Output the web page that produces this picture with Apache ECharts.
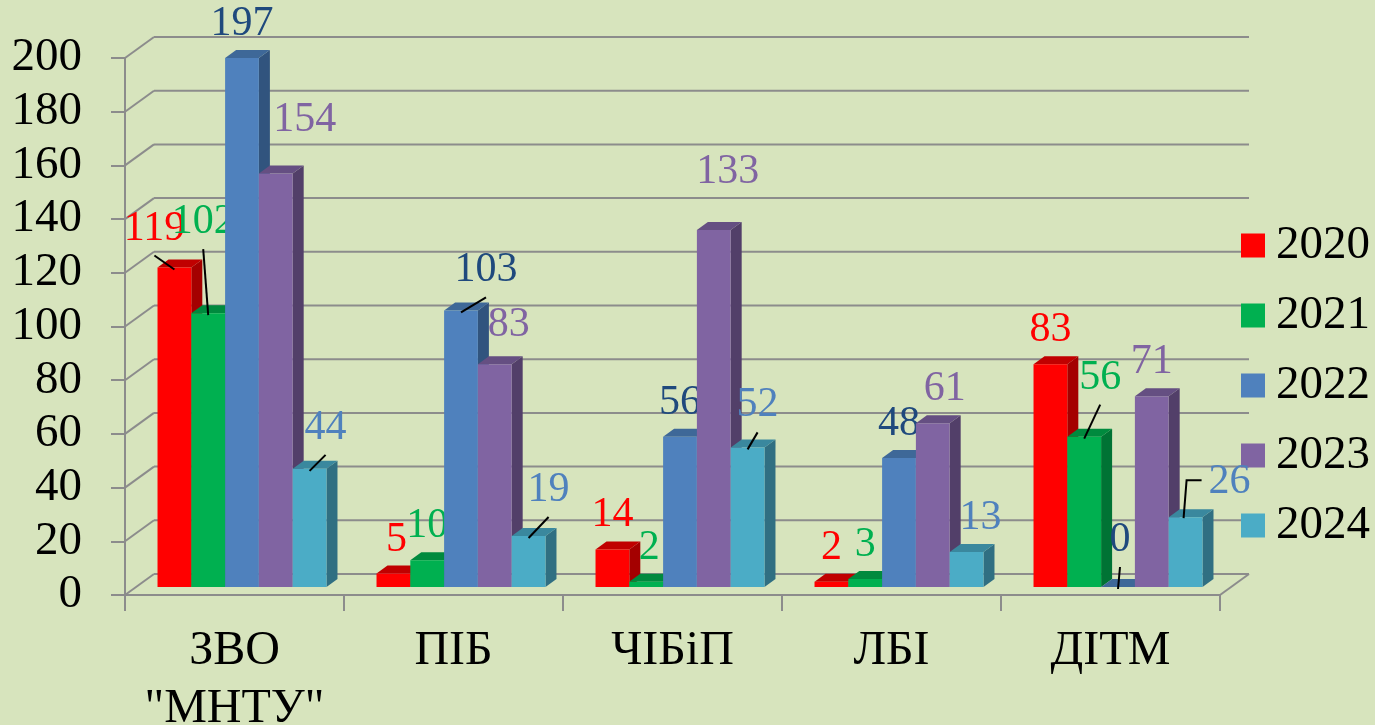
<!DOCTYPE html>
<html>
<head>
<meta charset="utf-8">
<script src="https://cdn.jsdelivr.net/npm/echarts@6/dist/echarts.min.js"></script>
<style>
html,body{margin:0;padding:0;background:#D7E4BD;}
#chart{width:1375px;height:725px;}
</style>
</head>
<body>
<div id="chart"></div>
<script>
// ---- data ----
const categories = ['ЗВО\n"МНТУ"', 'ПІБ', 'ЧІБіП', 'ЛБІ', 'ДІТМ'];
const years = ['2020', '2021', '2022', '2023', '2024'];
const v2020 = [119, 5, 14, 2, 83];
const v2021 = [102, 10, 2, 3, 56];
const v2022 = [197, 103, 56, 48, 0];
const v2023 = [154, 83, 133, 61, 71];
const v2024 = [44, 19, 52, 13, 26];
const yTicks = [0, 20, 40, 60, 80, 100, 120, 140, 160, 180, 200];
const seriesValues = [v2020, v2021, v2022, v2023, v2024];

// ---- styling / layout ----
const faceColors = [
  ['#FF0000', '#C00000', '#A40000'],
  ['#00B050', '#008A3E', '#007334'],
  ['#4F81BD', '#3E6898', '#31547E'],
  ['#8064A2', '#654F82', '#523F69'],
  ['#4BACC6', '#3A889E', '#306F82']
];
const labelColors = ['#FF0000', '#00B050', '#1F497D', '#8064A2', '#4F81BD'];
// label nudges [dx, dy, leaderType] per series per category (manual label placement)
const labelNudge = [
  [[-20, -5, 1], [3, 0, 0], [0, 0, 0], [0, 0, 0], [0, 0, 0]],
  [[-5, -57, 1], [0, 0, 0], [3, 0, 0], [0, 0, 0], [16, -25, 1]],
  [[0, 0, 0], [25, -6, 1], [0, 0, 0], [0, 0, 0], [2, -13, 1]],
  [[29, -20, 0], [14, -5, 0], [14, -24, 0], [12, 0, 0], [0, 0, 0]],
  [[16, -7, 1], [20, -12, 1], [10, -8, 1], [14, 0, 0], [44, -1, 2]]
];
const FONT = '"Liberation Serif", "Times New Roman", serif';
const GRID_COLOR = '#8C8C8C';
const WALL_DX = 29, WALL_DY = 21;
const BAR_DX = 11, BAR_DY = 8;

const chart = echarts.init(document.getElementById('chart'), null, {renderer: 'canvas'});

function barRender(s) {
  return function (params, api) {
    const c = api.value(0), v = api.value(1);
    const band = api.size([1, 0])[0];
    const k = band / 219;
    const w = band * 0.1543;
    const p = api.coord([c, v]);
    const b = api.coord([c, 0]);
    const x0 = p[0] + 7.5 * k + (s - 2.5) * w;
    const x1 = x0 + w;
    const ty = p[1] - BAR_DY;
    const by = b[1] - BAR_DY;
    const fc = faceColors[s];
    const children = [
      {type: 'polygon', shape: {points: [[x1, ty], [x1 + BAR_DX, ty - BAR_DY], [x1 + BAR_DX, by - BAR_DY], [x1, by]]}, style: {fill: fc[2]}},
      {type: 'polygon', shape: {points: [[x0, ty], [x1, ty], [x1 + BAR_DX, ty - BAR_DY], [x0 + BAR_DX, ty - BAR_DY]]}, style: {fill: fc[1]}},
      {type: 'rect', shape: {x: x0, y: ty, width: w, height: by - ty}, style: {fill: fc[0]}}
    ];
    const nd = labelNudge[s][c];
    const bx = (x0 + x1) / 2;
    const lx = bx + nd[0];
    const ly = ty - 34 + nd[1];
    const txt = String(v);
    if (nd[2] === 1) {
      children.push({type: 'line', shape: {x1: bx, y1: ty + 2, x2: lx, y2: ly + 27}, style: {stroke: '#000', lineWidth: 2}});
    } else if (nd[2] === 2) {
      const tw = txt.length * 21;
      children.push({type: 'polyline', shape: {points: [[bx - 2, ty + 1], [bx + 1, ly - 2], [lx - tw / 2 - 7, ly - 2]]}, style: {stroke: '#000', lineWidth: 2, fill: null}});
    }
    children.push({type: 'text', x: lx, y: ly, style: {text: txt, fill: labelColors[s], font: '42px ' + FONT, textAlign: 'center', textVerticalAlign: 'middle'}, z2: 10});
    return {type: 'group', children: children};
  };
}

function wallRender(params, api) {
  const t = api.value(1);
  const y = api.coord([0, t])[1];
  const cs = params.coordSys;
  const L = cs.x, R = cs.x + cs.width;
  const st = {stroke: GRID_COLOR, lineWidth: 2};
  const children = [
    {type: 'line', shape: {x1: L, y1: y, x2: L + WALL_DX, y2: y - WALL_DY}, style: st},
    {type: 'line', shape: {x1: L + WALL_DX, y1: y - WALL_DY, x2: R + WALL_DX, y2: y - WALL_DY}, style: st}
  ];
  if (t === 0) {
    children.push({type: 'line', shape: {x1: R, y1: y, x2: R + WALL_DX, y2: y - WALL_DY}, style: st});
  }
  return {type: 'group', children: children};
}

const series = [{
  type: 'custom',
  name: 'walls',
  renderItem: wallRender,
  data: yTicks.map(t => [0, t]),
  z: 1,
  silent: true,
  clip: false
}];
years.forEach((yname, s) => {
  series.push({
    type: 'custom',
    name: yname,
    renderItem: barRender(s),
    data: seriesValues[s].map((v, i) => [i, v]),
    itemStyle: {color: faceColors[s][0]},
    z: 2 + s,
    clip: false
  });
});

chart.setOption({
  backgroundColor: '#D7E4BD',
  animation: false,
  grid: {left: 125, right: 155, top: 58, bottom: 130, containLabel: false, outerBoundsMode: 'none'},
  legend: {
    data: years,
    orient: 'vertical',
    left: 1241,
    top: 222,
    padding: 0,
    icon: 'rect',
    itemWidth: 24,
    itemHeight: 24,
    itemGap: 23,
    textStyle: {fontFamily: FONT, fontSize: 47, color: '#000', lineHeight: 46, padding: [0, 0, 0, 6]}
  },
  xAxis: {
    type: 'category',
    data: categories,
    axisLine: {lineStyle: {color: GRID_COLOR, width: 2}},
    axisTick: {show: true, length: 16, lineStyle: {color: GRID_COLOR, width: 2}},
    axisLabel: {interval: 0, fontFamily: FONT, fontSize: 48, color: '#000', lineHeight: 58, margin: 27}
  },
  yAxis: {
    type: 'value',
    min: 0,
    max: 200,
    interval: 20,
    axisLine: {show: true, lineStyle: {color: GRID_COLOR, width: 2}},
    axisTick: {show: true, length: 14, lineStyle: {color: GRID_COLOR, width: 2}},
    splitLine: {show: false},
    axisLabel: {fontFamily: FONT, fontSize: 47, color: '#000', margin: 43}
  },
  series: series
});
</script>
</body>
</html>
